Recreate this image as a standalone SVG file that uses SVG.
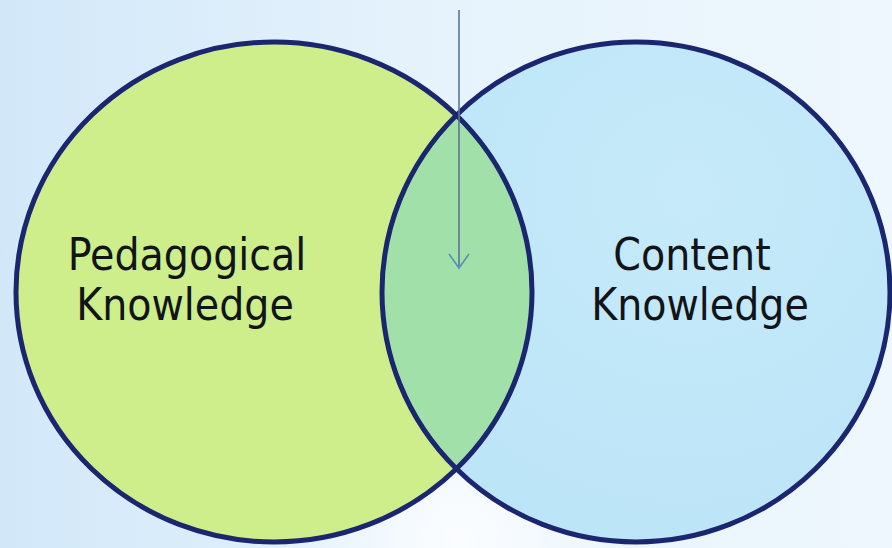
<svg xmlns="http://www.w3.org/2000/svg" width="892" height="548" viewBox="0 0 892 548">
  <defs>
    <linearGradient id="bg" x1="0" y1="0" x2="1" y2="0">
      <stop offset="0" stop-color="#d2e8f9"/>
      <stop offset="0.5" stop-color="#e6f3fc"/>
      <stop offset="1" stop-color="#eef7fd"/>
    </linearGradient>
    <radialGradient id="glow" cx="460" cy="540" r="200" gradientUnits="userSpaceOnUse">
      <stop offset="0" stop-color="#fbfdff" stop-opacity="1"/>
      <stop offset="1" stop-color="#fbfdff" stop-opacity="0"/>
    </radialGradient>
    <radialGradient id="blueFill" cx="0.6" cy="0.3" r="0.7">
      <stop offset="0" stop-color="#c6eafa"/>
      <stop offset="1" stop-color="#bce5f7"/>
    </radialGradient>
    <clipPath id="leftClip">
      <ellipse cx="274" cy="292" rx="258" ry="250"/>
    </clipPath>
    <marker id="vhead" viewBox="0 0 18 24" refX="16" refY="12" markerWidth="18" markerHeight="24" markerUnits="userSpaceOnUse" orient="auto">
      <path d="M2,2 L16,12 L2,22" fill="none" stroke="#5b8ec0" stroke-width="1.6"/>
    </marker>
    <style>
      .ring { stroke: #1b2670; stroke-width: 5; }
      .label { font-family: "DejaVu Sans Condensed", "DejaVu Sans", sans-serif; font-stretch: condensed; font-size: 44px; fill: #111418; text-anchor: middle; }
    </style>
  </defs>

  <rect x="0" y="0" width="892" height="548" fill="url(#bg)"/>
  <rect x="0" y="0" width="892" height="548" fill="url(#glow)"/>

  <g id="pedagogical">
    <ellipse cx="274" cy="292" rx="258" ry="250" fill="#cdee8b"/>
  </g>
  <g id="content">
    <ellipse cx="636" cy="292" rx="254" ry="250" fill="url(#blueFill)"/>
  </g>
  <g id="overlap">
    <ellipse cx="636" cy="292" rx="254" ry="250" fill="#a2e0a9" clip-path="url(#leftClip)"/>
  </g>
  <g id="rings">
    <ellipse class="ring" cx="274" cy="292" rx="258" ry="250" fill="none"/>
    <ellipse class="ring" cx="636" cy="292" rx="254" ry="250" fill="none"/>
  </g>

  <g id="pedagogical-label">
    <text class="label" x="187" y="270">Pedagogical</text>
    <text class="label" x="185" y="320">Knowledge</text>
  </g>
  <g id="content-label">
    <text class="label" x="692" y="270">Content</text>
    <text class="label" x="700" y="320">Knowledge</text>
  </g>

  <g id="connectors">
    <line x1="459" y1="10" x2="459" y2="268" stroke="#5a7496" stroke-width="1.6" marker-end="url(#vhead)"/>
  </g>
</svg>
